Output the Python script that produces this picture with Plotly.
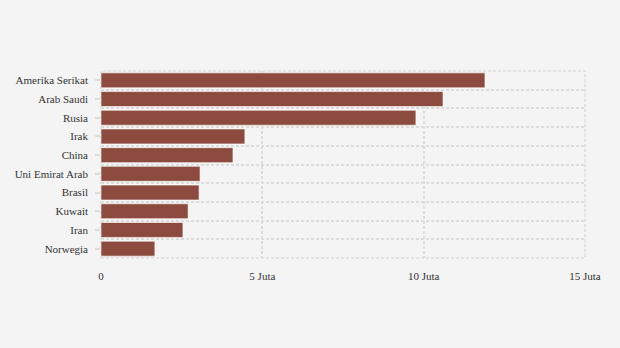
import plotly.graph_objects as go

countries = ["Amerika Serikat", "Arab Saudi", "Rusia", "Irak", "China",
             "Uni Emirat Arab", "Brasil", "Kuwait", "Iran", "Norwegia"]
production = [11.9e6, 10.6e6, 9.76e6, 4.46e6, 4.09e6, 3.07e6, 3.04e6, 2.70e6, 2.54e6, 1.67e6]
tick_values = [0, 5e6, 10e6, 15e6]
tick_labels = ["0", "5 Juta", "10 Juta", "15 Juta"]

n = len(countries)

fig = go.Figure()
fig.add_trace(go.Bar(
    x=production, y=countries, orientation="h",
    marker=dict(color="#8c4b3e", line=dict(color="rgba(255,255,255,0.6)", width=1)),
    hoverinfo="x+y",
))
# invisible helper trace so the tick-mark axis (at label centres) is drawn
fig.add_trace(go.Scatter(
    x=[0] * n, y=countries, yaxis="y2", mode="markers",
    marker=dict(opacity=0), hoverinfo="skip", showlegend=False,
))

grid = dict(showgrid=True, gridcolor="#dcdcdc", gridwidth=1.5, griddash="3px,2px")

fig.update_layout(
    width=620, height=348,
    paper_bgcolor="#f4f4f4", plot_bgcolor="#f4f4f4",
    margin=dict(l=101, r=35, t=71, b=90),
    font=dict(family="Liberation Serif", size=11, color="#333"),
    bargap=0.2,
    showlegend=False,
    xaxis=dict(range=[0, 15e6], tickvals=tick_values, ticktext=tick_labels,
               zeroline=False, ticklabelstandoff=10, **grid),
    yaxis=dict(categoryorder="array", categoryarray=countries,
               range=[n - 0.5, -0.5], autorange=False,
               tickson="boundaries", ticks="", ticklabelstandoff=12,
               zeroline=False, **grid),
    yaxis2=dict(overlaying="y", matches="y", side="left", showgrid=False,
                showticklabels=False, ticks="outside", ticklen=5, tickwidth=1.5,
                tickcolor="#dcdcdc", zeroline=False),
    shapes=[dict(type="rect", xref="paper", yref="paper", x0=0, x1=1, y0=0, y1=1,
                 line=dict(color="#dcdcdc", width=1.5, dash="3px,2px"), layer="below")],
)

fig.write_html("out.html")
